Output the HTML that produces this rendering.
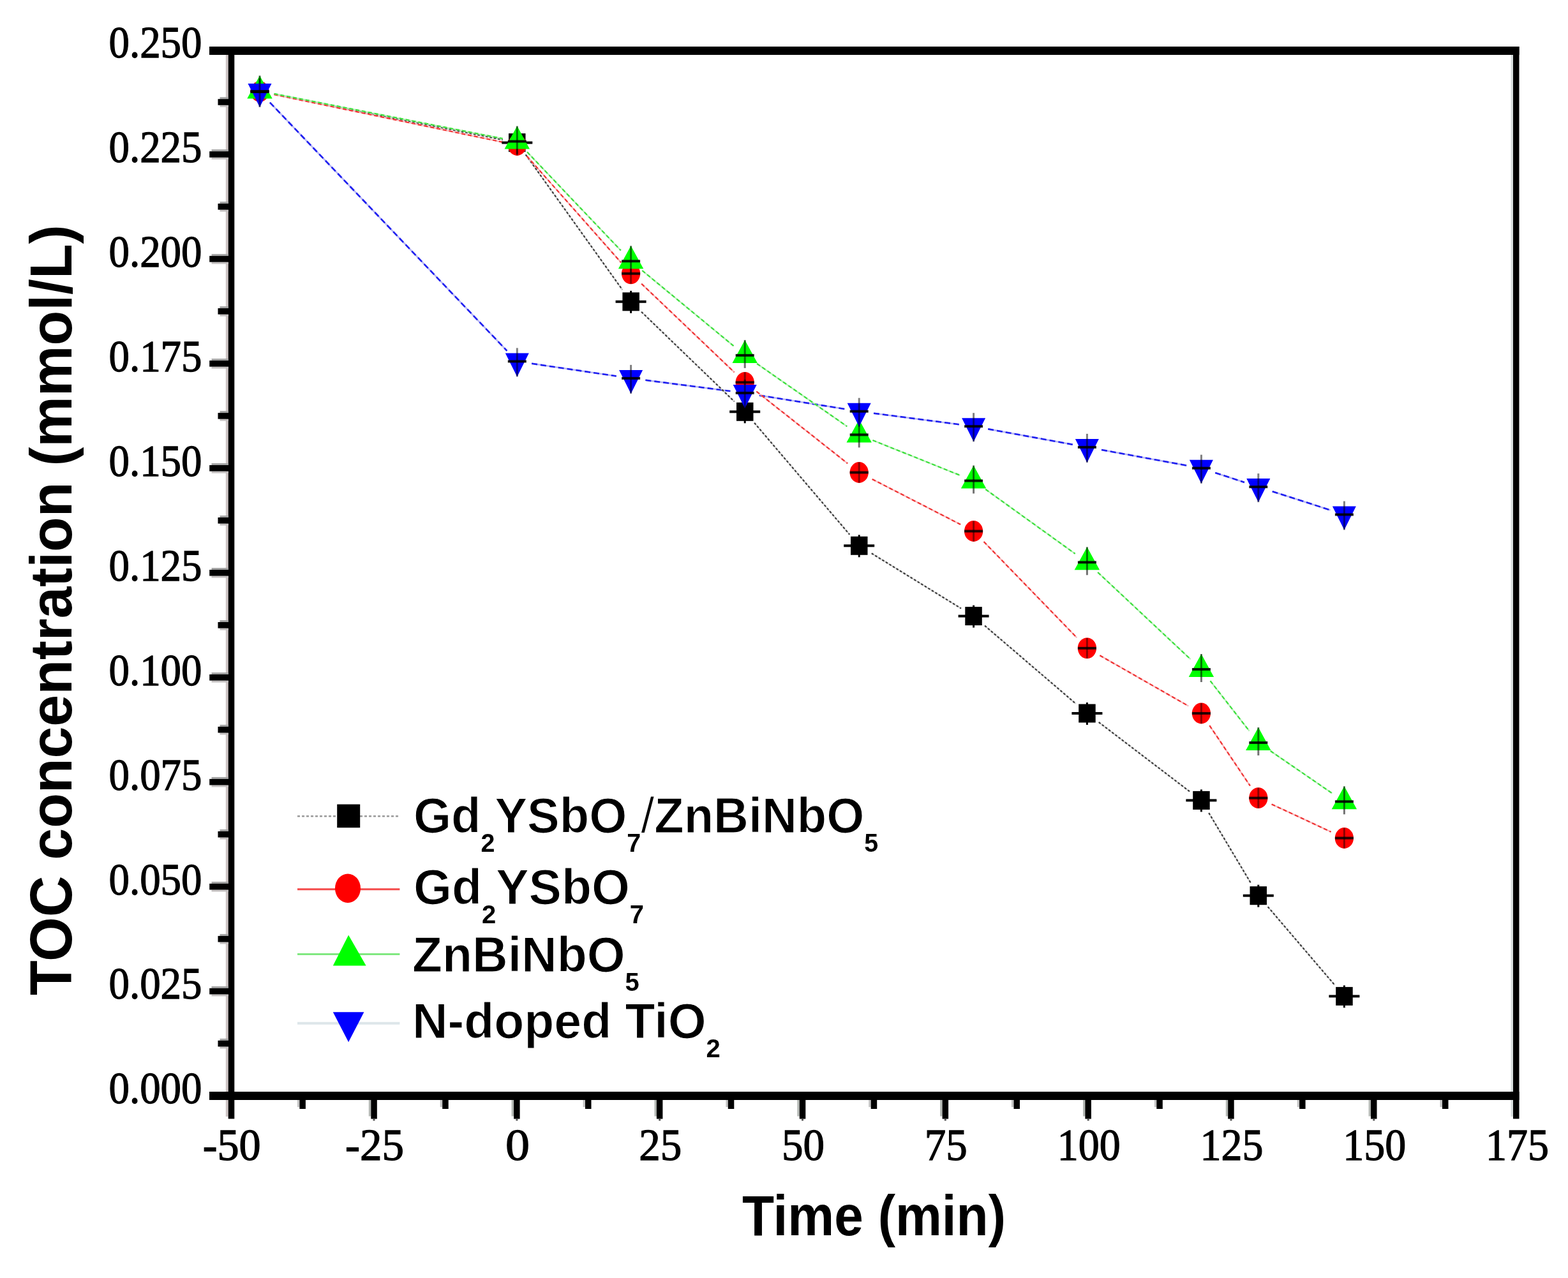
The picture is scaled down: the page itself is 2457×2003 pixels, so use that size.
<!DOCTYPE html><html><head><meta charset="utf-8"><title>TOC concentration vs time</title>
<style>html,body{margin:0;padding:0;background:#fff;overflow:hidden}svg{display:block}.tl{font-family:"Liberation Serif","Times New Roman",serif;font-size:70px;fill:#000;stroke:#000;stroke-width:1.3px}.ti{font-family:"Liberation Sans",Arial,sans-serif;font-weight:bold;fill:#000}</style></head><body>
<svg width="2457" height="2003" viewBox="0 0 2457 2003">
<rect x="0" y="0" width="2457" height="2003" fill="#fff"/>
<rect x="353.8" y="86" width="3.8" height="1664" fill="#cdc4c4"/>
<rect x="2367.5" y="86" width="3.6" height="1664" fill="#d6dcdc"/>
<rect x="328" y="73" width="2052.5" height="13" fill="#000"/>
<rect x="328" y="1711" width="2052.5" height="13" fill="#000"/>
<rect x="357.7" y="73" width="9.6" height="1680.5" fill="#000"/>
<rect x="2371" y="73" width="9.5" height="1680.5" fill="#000"/>
<rect x="344.5" y="1627.8" width="13.5" height="3" fill="#a4a4a4"/>
<rect x="344.5" y="1640.4" width="13.5" height="3" fill="#c4c0c0"/>
<rect x="341.5" y="1630.8" width="17" height="9.6" fill="#000"/>
<rect x="331.5" y="1545.8" width="26.5" height="3" fill="#a4a4a4"/>
<rect x="331.5" y="1558.4" width="26.5" height="3" fill="#c4c0c0"/>
<rect x="328.2" y="1548.8" width="30" height="9.6" fill="#000"/>
<rect x="344.5" y="1463.9" width="13.5" height="3" fill="#a4a4a4"/>
<rect x="344.5" y="1476.5" width="13.5" height="3" fill="#c4c0c0"/>
<rect x="341.5" y="1466.9" width="17" height="9.6" fill="#000"/>
<rect x="331.5" y="1381.9" width="26.5" height="3" fill="#a4a4a4"/>
<rect x="331.5" y="1394.5" width="26.5" height="3" fill="#c4c0c0"/>
<rect x="328.2" y="1384.9" width="30" height="9.6" fill="#000"/>
<rect x="344.5" y="1299.9" width="13.5" height="3" fill="#a4a4a4"/>
<rect x="344.5" y="1312.5" width="13.5" height="3" fill="#c4c0c0"/>
<rect x="341.5" y="1302.9" width="17" height="9.6" fill="#000"/>
<rect x="331.5" y="1217.9" width="26.5" height="3" fill="#a4a4a4"/>
<rect x="331.5" y="1230.5" width="26.5" height="3" fill="#c4c0c0"/>
<rect x="328.2" y="1220.9" width="30" height="9.6" fill="#000"/>
<rect x="344.5" y="1135.9" width="13.5" height="3" fill="#a4a4a4"/>
<rect x="344.5" y="1148.5" width="13.5" height="3" fill="#c4c0c0"/>
<rect x="341.5" y="1138.9" width="17" height="9.6" fill="#000"/>
<rect x="331.5" y="1054.0" width="26.5" height="3" fill="#a4a4a4"/>
<rect x="331.5" y="1066.6" width="26.5" height="3" fill="#c4c0c0"/>
<rect x="328.2" y="1057.0" width="30" height="9.6" fill="#000"/>
<rect x="344.5" y="972.0" width="13.5" height="3" fill="#a4a4a4"/>
<rect x="344.5" y="984.6" width="13.5" height="3" fill="#c4c0c0"/>
<rect x="341.5" y="975.0" width="17" height="9.6" fill="#000"/>
<rect x="331.5" y="890.0" width="26.5" height="3" fill="#a4a4a4"/>
<rect x="331.5" y="902.6" width="26.5" height="3" fill="#c4c0c0"/>
<rect x="328.2" y="893.0" width="30" height="9.6" fill="#000"/>
<rect x="344.5" y="808.0" width="13.5" height="3" fill="#a4a4a4"/>
<rect x="344.5" y="820.6" width="13.5" height="3" fill="#c4c0c0"/>
<rect x="341.5" y="811.0" width="17" height="9.6" fill="#000"/>
<rect x="331.5" y="726.0" width="26.5" height="3" fill="#a4a4a4"/>
<rect x="331.5" y="738.6" width="26.5" height="3" fill="#c4c0c0"/>
<rect x="328.2" y="729.0" width="30" height="9.6" fill="#000"/>
<rect x="344.5" y="644.1" width="13.5" height="3" fill="#a4a4a4"/>
<rect x="344.5" y="656.7" width="13.5" height="3" fill="#c4c0c0"/>
<rect x="341.5" y="647.1" width="17" height="9.6" fill="#000"/>
<rect x="331.5" y="562.1" width="26.5" height="3" fill="#a4a4a4"/>
<rect x="331.5" y="574.7" width="26.5" height="3" fill="#c4c0c0"/>
<rect x="328.2" y="565.1" width="30" height="9.6" fill="#000"/>
<rect x="344.5" y="480.1" width="13.5" height="3" fill="#a4a4a4"/>
<rect x="344.5" y="492.7" width="13.5" height="3" fill="#c4c0c0"/>
<rect x="341.5" y="483.1" width="17" height="9.6" fill="#000"/>
<rect x="331.5" y="398.1" width="26.5" height="3" fill="#a4a4a4"/>
<rect x="331.5" y="410.7" width="26.5" height="3" fill="#c4c0c0"/>
<rect x="328.2" y="401.1" width="30" height="9.6" fill="#000"/>
<rect x="344.5" y="316.1" width="13.5" height="3" fill="#a4a4a4"/>
<rect x="344.5" y="328.7" width="13.5" height="3" fill="#c4c0c0"/>
<rect x="341.5" y="319.1" width="17" height="9.6" fill="#000"/>
<rect x="331.5" y="234.2" width="26.5" height="3" fill="#a4a4a4"/>
<rect x="331.5" y="246.8" width="26.5" height="3" fill="#c4c0c0"/>
<rect x="328.2" y="237.2" width="30" height="9.6" fill="#000"/>
<rect x="344.5" y="152.2" width="13.5" height="3" fill="#a4a4a4"/>
<rect x="344.5" y="164.8" width="13.5" height="3" fill="#c4c0c0"/>
<rect x="341.5" y="155.2" width="17" height="9.6" fill="#000"/>
<rect x="465.9" y="1724" width="3.5" height="11" fill="#c4c4c4"/>
<rect x="469.4" y="1718" width="9.5" height="20" fill="#000"/>
<rect x="577.8" y="1724" width="3.5" height="25.5" fill="#b4b8b4"/>
<rect x="581.3" y="1718" width="9.5" height="35.6" fill="#000"/>
<rect x="584.5" y="1753.5" width="3" height="3" fill="#555"/>
<rect x="689.7" y="1724" width="3.5" height="11" fill="#c4c4c4"/>
<rect x="693.2" y="1718" width="9.5" height="20" fill="#000"/>
<rect x="801.6" y="1724" width="3.5" height="25.5" fill="#b4b8b4"/>
<rect x="805.1" y="1718" width="9.5" height="35.6" fill="#000"/>
<rect x="808.4" y="1753.5" width="3" height="3" fill="#555"/>
<rect x="913.6" y="1724" width="3.5" height="11" fill="#c4c4c4"/>
<rect x="917.0" y="1718" width="9.5" height="20" fill="#000"/>
<rect x="1025.5" y="1724" width="3.5" height="25.5" fill="#b4b8b4"/>
<rect x="1028.9" y="1718" width="9.5" height="35.6" fill="#000"/>
<rect x="1032.2" y="1753.5" width="3" height="3" fill="#555"/>
<rect x="1137.4" y="1724" width="3.5" height="11" fill="#c4c4c4"/>
<rect x="1140.8" y="1718" width="9.5" height="20" fill="#000"/>
<rect x="1249.3" y="1724" width="3.5" height="25.5" fill="#b4b8b4"/>
<rect x="1252.8" y="1718" width="9.5" height="35.6" fill="#000"/>
<rect x="1256.0" y="1753.5" width="3" height="3" fill="#555"/>
<rect x="1361.2" y="1724" width="3.5" height="11" fill="#c4c4c4"/>
<rect x="1364.7" y="1718" width="9.5" height="20" fill="#000"/>
<rect x="1473.1" y="1724" width="3.5" height="25.5" fill="#b4b8b4"/>
<rect x="1476.6" y="1718" width="9.5" height="35.6" fill="#000"/>
<rect x="1479.8" y="1753.5" width="3" height="3" fill="#555"/>
<rect x="1585.0" y="1724" width="3.5" height="11" fill="#c4c4c4"/>
<rect x="1588.5" y="1718" width="9.5" height="20" fill="#000"/>
<rect x="1697.0" y="1724" width="3.5" height="25.5" fill="#b4b8b4"/>
<rect x="1700.4" y="1718" width="9.5" height="35.6" fill="#000"/>
<rect x="1703.7" y="1753.5" width="3" height="3" fill="#555"/>
<rect x="1808.9" y="1724" width="3.5" height="11" fill="#c4c4c4"/>
<rect x="1812.3" y="1718" width="9.5" height="20" fill="#000"/>
<rect x="1920.8" y="1724" width="3.5" height="25.5" fill="#b4b8b4"/>
<rect x="1924.2" y="1718" width="9.5" height="35.6" fill="#000"/>
<rect x="1927.5" y="1753.5" width="3" height="3" fill="#555"/>
<rect x="2032.7" y="1724" width="3.5" height="11" fill="#c4c4c4"/>
<rect x="2036.1" y="1718" width="9.5" height="20" fill="#000"/>
<rect x="2144.6" y="1724" width="3.5" height="25.5" fill="#b4b8b4"/>
<rect x="2148.0" y="1718" width="9.5" height="35.6" fill="#000"/>
<rect x="2151.3" y="1753.5" width="3" height="3" fill="#555"/>
<rect x="2256.5" y="1724" width="3.5" height="11" fill="#c4c4c4"/>
<rect x="2260.0" y="1718" width="9.5" height="20" fill="#000"/>
<text class="tl" x="316.5" y="1729.4" text-anchor="end" textLength="146" lengthAdjust="spacingAndGlyphs">0.000</text>
<text class="tl" x="316.5" y="1565.4" text-anchor="end" textLength="146" lengthAdjust="spacingAndGlyphs">0.025</text>
<text class="tl" x="316.5" y="1401.5" text-anchor="end" textLength="146" lengthAdjust="spacingAndGlyphs">0.050</text>
<text class="tl" x="316.5" y="1237.5" text-anchor="end" textLength="146" lengthAdjust="spacingAndGlyphs">0.075</text>
<text class="tl" x="316.5" y="1073.6" text-anchor="end" textLength="146" lengthAdjust="spacingAndGlyphs">0.100</text>
<text class="tl" x="316.5" y="909.6" text-anchor="end" textLength="146" lengthAdjust="spacingAndGlyphs">0.125</text>
<text class="tl" x="316.5" y="745.6" text-anchor="end" textLength="146" lengthAdjust="spacingAndGlyphs">0.150</text>
<text class="tl" x="316.5" y="581.7" text-anchor="end" textLength="146" lengthAdjust="spacingAndGlyphs">0.175</text>
<text class="tl" x="316.5" y="417.7" text-anchor="end" textLength="146" lengthAdjust="spacingAndGlyphs">0.200</text>
<text class="tl" x="316.5" y="253.8" text-anchor="end" textLength="146" lengthAdjust="spacingAndGlyphs">0.225</text>
<text class="tl" x="316.5" y="89.8" text-anchor="end" textLength="146" lengthAdjust="spacingAndGlyphs">0.250</text>
<text class="tl" x="363.2" y="1817.8" text-anchor="middle" textLength="91" lengthAdjust="spacingAndGlyphs">-50</text>
<text class="tl" x="587.0" y="1817.8" text-anchor="middle" textLength="92" lengthAdjust="spacingAndGlyphs">-25</text>
<text class="tl" x="810.9" y="1817.8" text-anchor="middle" textLength="38" lengthAdjust="spacingAndGlyphs">0</text>
<text class="tl" x="1034.7" y="1817.8" text-anchor="middle" textLength="67" lengthAdjust="spacingAndGlyphs">25</text>
<text class="tl" x="1258.5" y="1817.8" text-anchor="middle" textLength="67" lengthAdjust="spacingAndGlyphs">50</text>
<text class="tl" x="1482.3" y="1817.8" text-anchor="middle" textLength="67" lengthAdjust="spacingAndGlyphs">75</text>
<text class="tl" x="1706.2" y="1817.8" text-anchor="middle" textLength="99" lengthAdjust="spacingAndGlyphs">100</text>
<text class="tl" x="1930.0" y="1817.8" text-anchor="middle" textLength="99" lengthAdjust="spacingAndGlyphs">125</text>
<text class="tl" x="2153.8" y="1817.8" text-anchor="middle" textLength="99" lengthAdjust="spacingAndGlyphs">150</text>
<text class="tl" x="2377.6" y="1817.8" text-anchor="middle" textLength="99" lengthAdjust="spacingAndGlyphs">175</text>
<text class="ti" font-size="92" transform="translate(112,1560) rotate(-90)" x="0" y="0" textLength="1207.5" lengthAdjust="spacingAndGlyphs">TOC concentration (mmol/L)</text>
<text class="ti" font-size="89" x="1163" y="1936" textLength="413" lengthAdjust="spacingAndGlyphs">Time (min)</text>
<path d="M422.9,160.6L794.4,549.8M833.1,569.8L965.8,589.5M1011.4,595.8L1144.4,613.0M1189.9,619.6L1323.5,641.0M1369.0,647.7L1502.8,665.2M1548.2,672.4L1680.8,696.7M1726.0,705.0L1859.8,729.6M1904.2,740.9L1950.0,755.9M1993.7,770.2L2084.5,799.4" fill="none" stroke="#b8b8f4" stroke-width="2.6"/>
<path d="M422.9,160.6L794.4,549.8M833.1,569.8L965.8,589.5M1011.4,595.8L1144.4,613.0M1189.9,619.6L1323.5,641.0M1369.0,647.7L1502.8,665.2M1548.2,672.4L1680.8,696.7M1726.0,705.0L1859.8,729.6M1904.2,740.9L1950.0,755.9M1993.7,770.2L2084.5,799.4" fill="none" stroke="#2020f0" stroke-width="2.6" stroke-dasharray="9 5"/>
<path d="M429.6,147.7L787.7,219.1M823.7,242.3L975.2,454.1M1005.1,488.8L1150.7,629.3M1182.1,662.8L1331.3,837.8M1365.8,867.3L1506.0,953.6M1543.1,980.6L1685.9,1103.0M1721.7,1131.9L1864.1,1240.5M1894.2,1274.1L1960.0,1384.0M1986.7,1421.2L2091.5,1543.9" fill="none" stroke="#d4d4d4" stroke-width="2.2"/>
<path d="M429.6,147.7L787.7,219.1M823.7,242.3L975.2,454.1M1005.1,488.8L1150.7,629.3M1182.1,662.8L1331.3,837.8M1365.8,867.3L1506.0,953.6M1543.1,980.6L1685.9,1103.0M1721.7,1131.9L1864.1,1240.5M1894.2,1274.1L1960.0,1384.0M1986.7,1421.2L2091.5,1543.9" fill="none" stroke="#3a3a3a" stroke-width="2.2" stroke-dasharray="3.5 3"/>
<path d="M429.5,148.2L787.8,222.8M825.6,244.7L973.3,411.6M1005.2,444.7L1150.6,583.4M1185.3,613.5L1328.1,726.3M1366.7,751.0L1505.1,822.0M1541.6,849.0L1687.4,999.4M1723.4,1027.3L1862.4,1106.6M1895.3,1137.1L1958.9,1231.6M1992.6,1260.4L2085.6,1303.8" fill="none" stroke="#f8b8bc" stroke-width="2.2"/>
<path d="M429.5,148.2L787.8,222.8M825.6,244.7L973.3,411.6M1005.2,444.7L1150.6,583.4M1185.3,613.5L1328.1,726.3M1366.7,751.0L1505.1,822.0M1541.6,849.0L1687.4,999.4M1723.4,1027.3L1862.4,1106.6M1895.3,1137.1L1958.9,1231.6M1992.6,1260.4L2085.6,1303.8" fill="none" stroke="#f03434" stroke-width="2.2" stroke-dasharray="6 4"/>
<path d="M429.6,146.9L787.7,217.2M826.1,238.3L972.8,392.6M1006.3,424.0L1149.5,542.2M1186.1,570.0L1327.3,668.3M1367.5,690.0L1504.3,744.9M1544.3,766.9L1684.7,867.9M1720.2,897.0L1865.6,1033.3M1896.5,1067.2L1957.7,1145.8M1990.8,1177.0L2087.4,1243.3" fill="none" stroke="#b8f0b8" stroke-width="2.2"/>
<path d="M429.6,146.9L787.7,217.2M826.1,238.3L972.8,392.6M1006.3,424.0L1149.5,542.2M1186.1,570.0L1327.3,668.3M1367.5,690.0L1504.3,744.9M1544.3,766.9L1684.7,867.9M1720.2,897.0L1865.6,1033.3M1896.5,1067.2L1957.7,1145.8M1990.8,1177.0L2087.4,1243.3" fill="none" stroke="#3ee03e" stroke-width="2.2" stroke-dasharray="6 4"/>
<rect x="797.0" y="209.1" width="26.5" height="29" fill="#000"/>
<rect x="975.4" y="458.3" width="26.5" height="29" fill="#000"/>
<rect x="1154.0" y="630.8" width="26.5" height="29" fill="#000"/>
<rect x="1333.0" y="840.8" width="26.5" height="29" fill="#000"/>
<rect x="1512.3" y="951.1" width="26.5" height="29" fill="#000"/>
<rect x="1690.2" y="1103.5" width="26.5" height="29" fill="#000"/>
<rect x="1869.2" y="1239.9" width="26.5" height="29" fill="#000"/>
<rect x="1958.5" y="1389.2" width="26.5" height="29" fill="#000"/>
<rect x="2093.2" y="1546.9" width="26.5" height="29" fill="#000"/>
<rect x="786.3" y="221.6" width="48" height="4" fill="#000" fill-opacity="1"/>
<rect x="808.8" y="206.6" width="3" height="35.0" fill="#000" fill-opacity="1"/>
<rect x="964.6" y="470.8" width="48" height="4" fill="#000" fill-opacity="1"/>
<rect x="987.1" y="455.8" width="3" height="35.0" fill="#000" fill-opacity="1"/>
<rect x="1143.2" y="643.3" width="48" height="4" fill="#000" fill-opacity="1"/>
<rect x="1165.7" y="628.3" width="3" height="35.0" fill="#000" fill-opacity="1"/>
<rect x="1322.2" y="853.3" width="48" height="4" fill="#000" fill-opacity="1"/>
<rect x="1344.7" y="838.3" width="3" height="35.0" fill="#000" fill-opacity="1"/>
<rect x="1501.6" y="963.6" width="48" height="4" fill="#000" fill-opacity="1"/>
<rect x="1524.1" y="948.6" width="3" height="35.0" fill="#000" fill-opacity="1"/>
<rect x="1679.4" y="1116.0" width="48" height="4" fill="#000" fill-opacity="1"/>
<rect x="1701.9" y="1101.0" width="3" height="35.0" fill="#000" fill-opacity="1"/>
<rect x="1858.4" y="1252.4" width="48" height="4" fill="#000" fill-opacity="1"/>
<rect x="1880.9" y="1237.4" width="3" height="35.0" fill="#000" fill-opacity="1"/>
<rect x="1947.8" y="1401.7" width="48" height="4" fill="#000" fill-opacity="1"/>
<rect x="1970.3" y="1386.7" width="3" height="35.0" fill="#000" fill-opacity="1"/>
<rect x="2082.4" y="1559.4" width="48" height="4" fill="#000" fill-opacity="1"/>
<rect x="2104.9" y="1544.4" width="3" height="35.0" fill="#000" fill-opacity="1"/>
<ellipse cx="407.0" cy="143.5" rx="14.6" ry="16.4" fill="#f00"/>
<ellipse cx="810.3" cy="227.5" rx="14.6" ry="16.4" fill="#f00"/>
<ellipse cx="988.6" cy="428.8" rx="14.6" ry="16.4" fill="#f00"/>
<ellipse cx="1167.2" cy="599.3" rx="14.6" ry="16.4" fill="#f00"/>
<ellipse cx="1346.2" cy="740.5" rx="14.6" ry="16.4" fill="#f00"/>
<ellipse cx="1525.6" cy="832.5" rx="14.6" ry="16.4" fill="#f00"/>
<ellipse cx="1703.4" cy="1015.9" rx="14.6" ry="16.4" fill="#f00"/>
<ellipse cx="1882.4" cy="1118.0" rx="14.6" ry="16.4" fill="#f00"/>
<ellipse cx="1971.8" cy="1250.7" rx="14.6" ry="16.4" fill="#f00"/>
<ellipse cx="2106.4" cy="1313.5" rx="14.6" ry="16.4" fill="#f00"/>
<rect x="392.5" y="141.5" width="29" height="4" fill="#000" fill-opacity="0.85"/>
<rect x="405.5" y="127.5" width="3" height="32.0" fill="#000" fill-opacity="0.45"/>
<rect x="795.8" y="225.5" width="29" height="4" fill="#000" fill-opacity="0.85"/>
<rect x="808.8" y="211.5" width="3" height="32.0" fill="#000" fill-opacity="0.45"/>
<rect x="974.1" y="426.8" width="29" height="4" fill="#000" fill-opacity="0.85"/>
<rect x="987.1" y="412.8" width="3" height="32.0" fill="#000" fill-opacity="0.45"/>
<rect x="1152.7" y="597.3" width="29" height="4" fill="#000" fill-opacity="0.85"/>
<rect x="1165.7" y="583.3" width="3" height="32.0" fill="#000" fill-opacity="0.45"/>
<rect x="1331.7" y="738.5" width="29" height="4" fill="#000" fill-opacity="0.85"/>
<rect x="1344.7" y="724.5" width="3" height="32.0" fill="#000" fill-opacity="0.45"/>
<rect x="1511.1" y="830.5" width="29" height="4" fill="#000" fill-opacity="0.85"/>
<rect x="1524.1" y="816.5" width="3" height="32.0" fill="#000" fill-opacity="0.45"/>
<rect x="1688.9" y="1013.9" width="29" height="4" fill="#000" fill-opacity="0.85"/>
<rect x="1701.9" y="999.9" width="3" height="32.0" fill="#000" fill-opacity="0.45"/>
<rect x="1867.9" y="1116.0" width="29" height="4" fill="#000" fill-opacity="0.85"/>
<rect x="1880.9" y="1102.0" width="3" height="32.0" fill="#000" fill-opacity="0.45"/>
<rect x="1957.3" y="1248.7" width="29" height="4" fill="#000" fill-opacity="0.85"/>
<rect x="1970.3" y="1234.7" width="3" height="32.0" fill="#000" fill-opacity="0.45"/>
<rect x="2091.9" y="1311.5" width="29" height="4" fill="#000" fill-opacity="0.85"/>
<rect x="2104.9" y="1297.5" width="3" height="32.0" fill="#000" fill-opacity="0.45"/>
<polygon points="407.0,118.5 426.7,154.5 387.3,154.5" fill="#0f0"/>
<polygon points="810.3,197.6 830.0,233.6 790.6,233.6" fill="#0f0"/>
<polygon points="988.6,385.3 1008.3,421.3 968.9,421.3" fill="#0f0"/>
<polygon points="1167.2,532.9 1186.9,568.9 1147.5,568.9" fill="#0f0"/>
<polygon points="1346.2,657.4 1365.9,693.4 1326.5,693.4" fill="#0f0"/>
<polygon points="1525.6,729.5 1545.3,765.5 1505.9,765.5" fill="#0f0"/>
<polygon points="1703.4,857.3 1723.1,893.3 1683.7,893.3" fill="#0f0"/>
<polygon points="1882.4,1025.0 1902.1,1061.0 1862.7,1061.0" fill="#0f0"/>
<polygon points="1971.8,1140.0 1991.5,1176.0 1952.1,1176.0" fill="#0f0"/>
<polygon points="2106.4,1232.3 2126.1,1268.3 2086.7,1268.3" fill="#0f0"/>
<rect x="392.5" y="140.5" width="29" height="4" fill="#000" fill-opacity="0.9"/>
<rect x="405.5" y="118.5" width="3" height="44.0" fill="#000" fill-opacity="0.55"/>
<rect x="795.8" y="219.6" width="29" height="4" fill="#000" fill-opacity="0.9"/>
<rect x="808.8" y="197.6" width="3" height="44.0" fill="#000" fill-opacity="0.55"/>
<rect x="974.1" y="407.3" width="29" height="4" fill="#000" fill-opacity="0.9"/>
<rect x="987.1" y="385.3" width="3" height="44.0" fill="#000" fill-opacity="0.55"/>
<rect x="1152.7" y="554.9" width="29" height="4" fill="#000" fill-opacity="0.9"/>
<rect x="1165.7" y="532.9" width="3" height="44.0" fill="#000" fill-opacity="0.55"/>
<rect x="1331.7" y="679.4" width="29" height="4" fill="#000" fill-opacity="0.9"/>
<rect x="1344.7" y="657.4" width="3" height="44.0" fill="#000" fill-opacity="0.55"/>
<rect x="1511.1" y="751.5" width="29" height="4" fill="#000" fill-opacity="0.9"/>
<rect x="1524.1" y="729.5" width="3" height="44.0" fill="#000" fill-opacity="0.55"/>
<rect x="1688.9" y="879.3" width="29" height="4" fill="#000" fill-opacity="0.9"/>
<rect x="1701.9" y="857.3" width="3" height="44.0" fill="#000" fill-opacity="0.55"/>
<rect x="1867.9" y="1047.0" width="29" height="4" fill="#000" fill-opacity="0.9"/>
<rect x="1880.9" y="1025.0" width="3" height="44.0" fill="#000" fill-opacity="0.55"/>
<rect x="1957.3" y="1162.0" width="29" height="4" fill="#000" fill-opacity="0.9"/>
<rect x="1970.3" y="1140.0" width="3" height="44.0" fill="#000" fill-opacity="0.55"/>
<rect x="2091.9" y="1254.3" width="29" height="4" fill="#000" fill-opacity="0.9"/>
<rect x="2104.9" y="1232.3" width="3" height="44.0" fill="#000" fill-opacity="0.55"/>
<polygon points="388.5,131.0 425.5,131.0 407.0,168.0" fill="#00f"/>
<polygon points="791.8,553.4 828.8,553.4 810.3,590.4" fill="#00f"/>
<polygon points="970.1,579.9 1007.1,579.9 988.6,616.9" fill="#00f"/>
<polygon points="1148.7,602.9 1185.7,602.9 1167.2,639.9" fill="#00f"/>
<polygon points="1327.7,631.7 1364.7,631.7 1346.2,668.7" fill="#00f"/>
<polygon points="1507.1,655.2 1544.1,655.2 1525.6,692.2" fill="#00f"/>
<polygon points="1684.9,687.9 1721.9,687.9 1703.4,724.9" fill="#00f"/>
<polygon points="1863.9,720.7 1900.9,720.7 1882.4,757.7" fill="#00f"/>
<polygon points="1953.3,750.1 1990.3,750.1 1971.8,787.1" fill="#00f"/>
<polygon points="2087.9,793.5 2124.9,793.5 2106.4,830.5" fill="#00f"/>
<rect x="392.5" y="142.0" width="29" height="4" fill="#000" fill-opacity="0.9"/>
<rect x="405.5" y="123.0" width="3" height="45.0" fill="#000" fill-opacity="0.5"/>
<rect x="795.8" y="564.4" width="29" height="4" fill="#000" fill-opacity="0.9"/>
<rect x="808.8" y="545.4" width="3" height="45.0" fill="#000" fill-opacity="0.5"/>
<rect x="974.1" y="590.9" width="29" height="4" fill="#000" fill-opacity="0.9"/>
<rect x="987.1" y="571.9" width="3" height="45.0" fill="#000" fill-opacity="0.5"/>
<rect x="1152.7" y="613.9" width="29" height="4" fill="#000" fill-opacity="0.9"/>
<rect x="1165.7" y="594.9" width="3" height="45.0" fill="#000" fill-opacity="0.5"/>
<rect x="1331.7" y="642.7" width="29" height="4" fill="#000" fill-opacity="0.9"/>
<rect x="1344.7" y="623.7" width="3" height="45.0" fill="#000" fill-opacity="0.5"/>
<rect x="1511.1" y="666.2" width="29" height="4" fill="#000" fill-opacity="0.9"/>
<rect x="1524.1" y="647.2" width="3" height="45.0" fill="#000" fill-opacity="0.5"/>
<rect x="1688.9" y="698.9" width="29" height="4" fill="#000" fill-opacity="0.9"/>
<rect x="1701.9" y="679.9" width="3" height="45.0" fill="#000" fill-opacity="0.5"/>
<rect x="1867.9" y="731.7" width="29" height="4" fill="#000" fill-opacity="0.9"/>
<rect x="1880.9" y="712.7" width="3" height="45.0" fill="#000" fill-opacity="0.5"/>
<rect x="1957.3" y="761.1" width="29" height="4" fill="#000" fill-opacity="0.9"/>
<rect x="1970.3" y="742.1" width="3" height="45.0" fill="#000" fill-opacity="0.5"/>
<rect x="2091.9" y="804.5" width="29" height="4" fill="#000" fill-opacity="0.9"/>
<rect x="2104.9" y="785.5" width="3" height="45.0" fill="#000" fill-opacity="0.5"/>
<rect x="394.0" y="141.2" width="26" height="4" fill="#000"/>
<line x1="466" y1="1279.2" x2="626.4" y2="1279.2" stroke="#9a9a9a" stroke-width="2.5" stroke-dasharray="4 3"/>
<line x1="466" y1="1393.7" x2="626.4" y2="1393.7" stroke="#f44a4a" stroke-width="3"/>
<line x1="466" y1="1495.6" x2="626.4" y2="1495.6" stroke="#80e880" stroke-width="3"/>
<line x1="466" y1="1603.7" x2="626.4" y2="1603.7" stroke="#dde6ea" stroke-width="4"/>
<rect x="528.2" y="1260.6" width="36" height="36.6" fill="#000"/>
<ellipse cx="545" cy="1392.2" rx="20" ry="22.8" fill="#f00"/>
<polygon points="546.1,1465.4 573.6,1513.5 521.8,1513.5" fill="#0f0"/>
<polygon points="521.8,1586.2 570.4,1586.2 546.1,1633.3" fill="#00f"/>
<text class="ti" font-size="77" x="648" y="1305" transform="translate(648,0) scale(0.9866,1) translate(-648,0)" stroke="#fff" stroke-width="1.2"><tspan y="1305">Gd</tspan><tspan font-size="40" y="1335" stroke="none">2</tspan><tspan y="1305">YSbO</tspan><tspan font-size="40" y="1335" stroke="none">7</tspan><tspan y="1305" font-weight="normal">/</tspan><tspan y="1305">ZnBiNbO</tspan><tspan font-size="40" y="1335" stroke="none">5</tspan></text>
<text class="ti" font-size="77" x="648" y="1416.5" stroke="#fff" stroke-width="1.2"><tspan y="1416.5">Gd</tspan><tspan font-size="40" y="1446.5" stroke="none">2</tspan><tspan y="1416.5">YSbO</tspan><tspan font-size="40" y="1446.5" stroke="none">7</tspan></text>
<text class="ti" font-size="77" x="646" y="1522.5" stroke="#fff" stroke-width="1.2"><tspan y="1522.5">ZnBiNbO</tspan><tspan font-size="40" y="1552.5" stroke="none">5</tspan></text>
<text class="ti" font-size="77" x="646" y="1627" stroke="#fff" stroke-width="1.2"><tspan y="1627">N-doped TiO</tspan><tspan font-size="40" y="1657" stroke="none">2</tspan></text>
</svg></body></html>
